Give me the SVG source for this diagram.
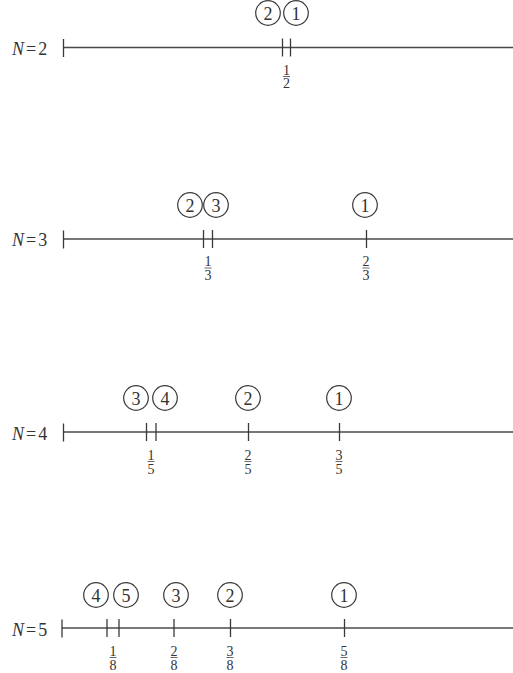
<svg xmlns="http://www.w3.org/2000/svg" width="513" height="673" viewBox="0 0 513 673">
<style>
.ax{stroke:#4a4a4a;stroke-width:1.3;fill:none}
.tk{stroke:#3a3a3a;stroke-width:1.3}
.c{fill:#fff;stroke:#3a3a3a;stroke-width:1.2}
text{font-family:'Liberation Serif','Times New Roman',Times,serif;fill:#333}
.ct{font-size:18px;text-anchor:middle}
.lb{font-size:18px}
.fr{font-size:14px;text-anchor:middle}
.bar{stroke:#444;stroke-width:0.8}
</style>
<rect width="513" height="673" fill="#fff"/>

<!-- N=2 -->
<g id="row-N2">
<text class="lb" x="12" y="55"><tspan font-style="italic">N</tspan><tspan dx="2">=</tspan><tspan dx="2">2</tspan></text>
<g id="axis-N2">
<line class="ax" x1="63.5" y1="47.5" x2="513" y2="47.5"/>
<line class="tk" x1="63.5" y1="39" x2="63.5" y2="57"/>
<line class="tk" x1="282.5" y1="38.5" x2="282.5" y2="56.5"/>
<line class="tk" x1="290.5" y1="38.5" x2="290.5" y2="56.5"/>
</g>
<g id="n2-c2"><circle class="c" cx="268" cy="13" r="12.3"/><text class="ct" x="268" y="19.5">2</text></g>
<g id="n2-c1"><circle class="c" cx="296" cy="13" r="12.3"/><text class="ct" x="296" y="19.5">1</text></g>
<g id="n2-f12"><text class="fr" x="286.5" y="74.5">1</text><line class="bar" x1="283" y1="76.5" x2="290" y2="76.5"/><text class="fr" x="286.5" y="88">2</text></g>
</g>

<!-- N=3 -->
<g id="row-N3">
<text class="lb" x="12" y="246"><tspan font-style="italic">N</tspan><tspan dx="2">=</tspan><tspan dx="2">3</tspan></text>
<g id="axis-N3">
<line class="ax" x1="63.5" y1="239" x2="513" y2="239"/>
<line class="tk" x1="63.5" y1="230.5" x2="63.5" y2="248.5"/>
<line class="tk" x1="203.5" y1="230" x2="203.5" y2="248"/>
<line class="tk" x1="212.5" y1="230" x2="212.5" y2="248"/>
<line class="tk" x1="366.5" y1="230" x2="366.5" y2="248"/>
</g>
<g id="n3-c2"><circle class="c" cx="190" cy="205" r="12.3"/><text class="ct" x="190" y="211.5">2</text></g>
<g id="n3-c3"><circle class="c" cx="216" cy="205" r="12.3"/><text class="ct" x="216" y="211.5">3</text></g>
<g id="n3-c1"><circle class="c" cx="365" cy="205" r="12.3"/><text class="ct" x="365" y="211.5">1</text></g>
<g id="n3-f13"><text class="fr" x="208" y="266">1</text><line class="bar" x1="204.5" y1="268" x2="211.5" y2="268"/><text class="fr" x="208" y="280">3</text></g>
<g id="n3-f23"><text class="fr" x="366" y="266">2</text><line class="bar" x1="362.5" y1="268" x2="369.5" y2="268"/><text class="fr" x="366" y="280">3</text></g>
</g>

<!-- N=4 -->
<g id="row-N4">
<text class="lb" x="12" y="439.5"><tspan font-style="italic">N</tspan><tspan dx="2">=</tspan><tspan dx="2">4</tspan></text>
<g id="axis-N4">
<line class="ax" x1="63.5" y1="432" x2="513" y2="432"/>
<line class="tk" x1="63.5" y1="423.5" x2="63.5" y2="441.5"/>
<line class="tk" x1="146.5" y1="423" x2="146.5" y2="441"/>
<line class="tk" x1="156" y1="423" x2="156" y2="441"/>
<line class="tk" x1="248.5" y1="423" x2="248.5" y2="441"/>
<line class="tk" x1="339.5" y1="423" x2="339.5" y2="441"/>
</g>
<g id="n4-c3"><circle class="c" cx="136" cy="398" r="12.3"/><text class="ct" x="136" y="404.5">3</text></g>
<g id="n4-c4"><circle class="c" cx="165" cy="398" r="12.3"/><text class="ct" x="165" y="404.5">4</text></g>
<g id="n4-c2"><circle class="c" cx="248" cy="398" r="12.3"/><text class="ct" x="248" y="404.5">2</text></g>
<g id="n4-c1"><circle class="c" cx="339" cy="398" r="12.3"/><text class="ct" x="339" y="404.5">1</text></g>
<g id="n4-f15"><text class="fr" x="151" y="459.5">1</text><line class="bar" x1="147.5" y1="461.5" x2="154.5" y2="461.5"/><text class="fr" x="151" y="474">5</text></g>
<g id="n4-f25"><text class="fr" x="248" y="459.5">2</text><line class="bar" x1="244.5" y1="461.5" x2="251.5" y2="461.5"/><text class="fr" x="248" y="474">5</text></g>
<g id="n4-f35"><text class="fr" x="339" y="459.5">3</text><line class="bar" x1="335.5" y1="461.5" x2="342.5" y2="461.5"/><text class="fr" x="339" y="474">5</text></g>
</g>

<!-- N=5 -->
<g id="row-N5">
<text class="lb" x="12" y="635.5"><tspan font-style="italic">N</tspan><tspan dx="2">=</tspan><tspan dx="2">5</tspan></text>
<g id="axis-N5">
<line class="ax" x1="62" y1="628" x2="513" y2="628"/>
<line class="tk" x1="62" y1="619.5" x2="62" y2="637.5"/>
<line class="tk" x1="107" y1="619" x2="107" y2="637"/>
<line class="tk" x1="119" y1="619" x2="119" y2="637"/>
<line class="tk" x1="174" y1="619" x2="174" y2="637"/>
<line class="tk" x1="230.5" y1="619" x2="230.5" y2="637"/>
<line class="tk" x1="344.5" y1="619" x2="344.5" y2="637"/>
</g>
<g id="n5-c4"><circle class="c" cx="96" cy="595" r="12.3"/><text class="ct" x="96" y="601.5">4</text></g>
<g id="n5-c5"><circle class="c" cx="126" cy="595" r="12.3"/><text class="ct" x="126" y="601.5">5</text></g>
<g id="n5-c3"><circle class="c" cx="176" cy="595" r="12.3"/><text class="ct" x="176" y="601.5">3</text></g>
<g id="n5-c2"><circle class="c" cx="230" cy="595" r="12.3"/><text class="ct" x="230" y="601.5">2</text></g>
<g id="n5-c1"><circle class="c" cx="344" cy="595" r="12.3"/><text class="ct" x="344" y="601.5">1</text></g>
<g id="n5-f18"><text class="fr" x="113" y="655.5">1</text><line class="bar" x1="109.5" y1="657.5" x2="116.5" y2="657.5"/><text class="fr" x="113" y="670">8</text></g>
<g id="n5-f28"><text class="fr" x="174" y="655.5">2</text><line class="bar" x1="170.5" y1="657.5" x2="177.5" y2="657.5"/><text class="fr" x="174" y="670">8</text></g>
<g id="n5-f38"><text class="fr" x="230" y="655.5">3</text><line class="bar" x1="226.5" y1="657.5" x2="233.5" y2="657.5"/><text class="fr" x="230" y="670">8</text></g>
<g id="n5-f58"><text class="fr" x="344" y="655.5">5</text><line class="bar" x1="340.5" y1="657.5" x2="347.5" y2="657.5"/><text class="fr" x="344" y="670">8</text></g>
</g>
</svg>
